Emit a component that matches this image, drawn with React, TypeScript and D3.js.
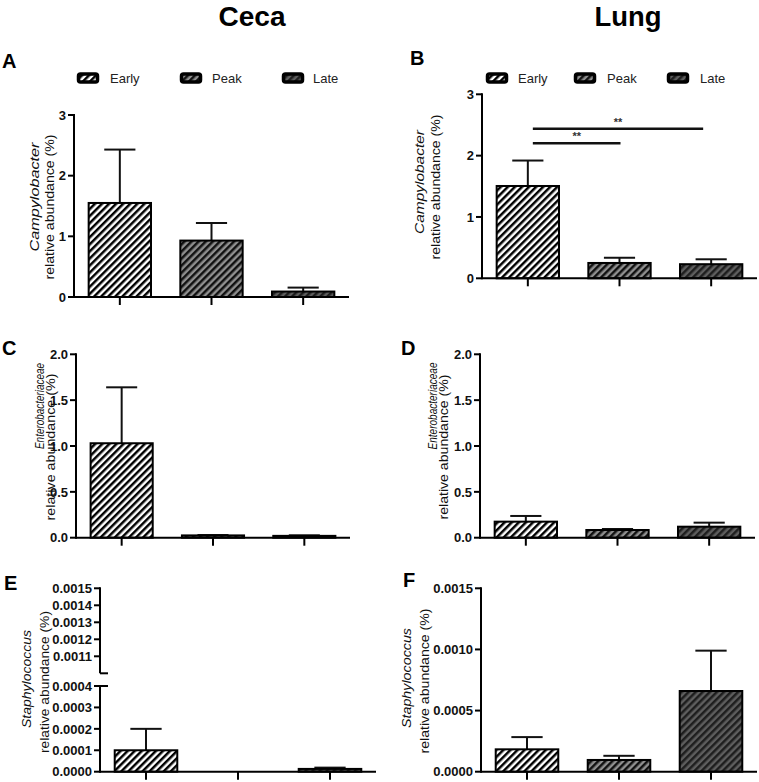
import React from "react";
import * as d3 from "d3";

const groups = ["Early", "Peak", "Late"];

const cecaCampyMean = [1.55, 0.93, 0.09];
const cecaCampySem = [0.88, 0.29, 0.065];
const lungCampyMean = [1.505, 0.25, 0.23];
const lungCampySem = [0.415, 0.085, 0.08];
const cecaEnteroMean = [1.03, 0.025, 0.02];
const cecaEnteroSem = [0.61, 0.004, 0.006];
const lungEnteroMean = [0.175, 0.084, 0.12];
const lungEnteroSem = [0.062, 0.011, 0.044];
const cecaStaphMean = [0.0001, 0, 0.000013];
const cecaStaphSem = [0.0001, 0, 0.000006];
const lungStaphMean = [0.000183, 0.000096, 0.00066];
const lungStaphSem = [0.0001, 0.000034, 0.00033];

const campyTicks = [0, 1, 2, 3];
const enteroTicks = [0, 0.5, 1, 1.5, 2];
const cecaStaphLowTicks = [0, 0.0001, 0.0002, 0.0003, 0.0004];
const cecaStaphHighTicks = [0.0011, 0.0012, 0.0013, 0.0014, 0.0015];
const lungStaphTicks = [0, 0.0005, 0.001, 0.0015];

const sigPairs: [number, number][] = [[0, 1], [0, 2]];
const sigHeights = [2.2, 2.44];
const sigLabels = ["**", "**"];

const fills = ["#ffffff", "#8f8f8f", "#5e5e5e"];
const stripeColors = ["#000000", "#111111", "#1e1e1e"];

const FONT = "'Liberation Sans', Arial, Helvetica, sans-serif";
const NARROW = "'Liberation Sans Narrow', 'Arial Narrow', 'Liberation Sans', Arial, sans-serif";

type Segment = { domain: [number, number]; range: [number, number]; ticks: number[]; fmt: string; topCap?: boolean; bottomCap?: boolean };

type Panel = {
  letter: string; lx: number; ly: number;
  xr: [number, number];
  segs: Segment[];
  mean: number[]; sem: number[];
  italic: string;
  lab: { ix: number; iy: number; il: number; nx: number; ny: number; nl: number };
  legend?: { sx: number[]; tx: number[]; y: number };
  sig?: boolean;
};

const panels: Panel[] = [
  {
    letter: "A", lx: 2, ly: 68, xr: [74, 349],
    segs: [{ domain: [0, 3], range: [297, 115], ticks: campyTicks, fmt: "d" }],
    mean: cecaCampyMean, sem: cecaCampySem, italic: "Campylobacter",
    lab: { ix: 39, iy: 197, il: 109, nx: 54, ny: 207, nl: 145 },
    legend: { sx: [77, 180, 282], tx: [110, 212, 313], y: 78 },
  },
  {
    letter: "B", lx: 410, ly: 65, xr: [482, 757],
    segs: [{ domain: [0, 3], range: [278.3, 94.3], ticks: campyTicks, fmt: "d" }],
    mean: lungCampyMean, sem: lungCampySem, italic: "Campylobacter",
    lab: { ix: 424, iy: 182, il: 104, nx: 440, ny: 187, nl: 145 },
    legend: { sx: [486, 574, 667], tx: [518, 607, 700], y: 78 },
    sig: true,
  },
  {
    letter: "C", lx: 2, ly: 355, xr: [76, 350],
    segs: [{ domain: [0, 2], range: [537.7, 354.3], ticks: enteroTicks, fmt: ".1f" }],
    mean: cecaEnteroMean, sem: cecaEnteroSem, italic: "Enterobacteriaceae",
    lab: { ix: 44, iy: 406, il: 86, nx: 55, ny: 447, nl: 147 },
  },
  {
    letter: "D", lx: 401, ly: 355, xr: [480, 755],
    segs: [{ domain: [0, 2], range: [537.7, 354.3], ticks: enteroTicks, fmt: ".1f" }],
    mean: lungEnteroMean, sem: lungEnteroSem, italic: "Enterobacteriaceae",
    lab: { ix: 437, iy: 406, il: 87, nx: 448, ny: 447, nl: 145 },
  },
  {
    letter: "E", lx: 4, ly: 590, xr: [100, 376],
    segs: [
      { domain: [0, 0.0004], range: [771.7, 686], ticks: cecaStaphLowTicks, fmt: ".4f", topCap: true },
      { domain: [0.001, 0.0015], range: [673.3, 588.3], ticks: cecaStaphHighTicks, fmt: ".4f", bottomCap: true },
    ],
    mean: cecaStaphMean, sem: cecaStaphSem, italic: "Staphylococcus",
    lab: { ix: 31, iy: 679, il: 98, nx: 49, ny: 682, nl: 142 },
  },
  {
    letter: "F", lx: 403, ly: 587, xr: [481, 757],
    segs: [{ domain: [0, 0.0015], range: [771.7, 588.3], ticks: lungStaphTicks, fmt: ".4f" }],
    mean: lungStaphMean, sem: lungStaphSem, italic: "Staphylococcus",
    lab: { ix: 411, iy: 678, il: 100, nx: 429, ny: 681, nl: 145 },
  },
];

function PanelView({ p }: { p: Panel }) {
  const x = d3.scaleBand<string>().domain(groups).range(p.xr).paddingInner(0.32).paddingOuter(0.16);
  const bw = x.bandwidth();
  const y = d3.scaleLinear().domain(p.segs[0].domain).range(p.segs[0].range);
  const ax = p.xr[0];
  const y0 = p.segs[0].range[0];
  const cx = (i: number) => (x(groups[i]) as number) + bw / 2;
  return (
    <g>
      <text x={p.lx} y={p.ly} fontFamily={FONT} fontWeight="bold" fontSize={20} fill="#000">{p.letter}</text>
      {p.legend && groups.map((g, i) => (
        <g key={g}>
          <rect x={p.legend!.sx[i] + 1.5} y={p.legend!.y - 4} width={19} height={8} rx={2}
            fill={`url(#pat${i})`} stroke="#000" strokeWidth={3.5} />
          <text x={p.legend!.tx[i]} y={p.legend!.y + 4.5} fontFamily={FONT} fontSize={13} fill="#222">{g}</text>
        </g>
      ))}
      {groups.map((g, i) => {
        const top = y(p.mean[i]);
        const et = y(p.mean[i] + p.sem[i]);
        if (p.mean[i] <= 0) return null;
        return (
          <g key={g}>
            {p.sem[i] > 0 && (
              <g stroke="#111" strokeWidth={2}>
                <line x1={cx(i)} x2={cx(i)} y1={top} y2={et} />
                <line x1={cx(i) - bw / 4} x2={cx(i) + bw / 4} y1={et} y2={et} />
              </g>
            )}
            <rect x={x(g)} y={top} width={bw} height={Math.max(0, y0 - top)}
              fill={`url(#pat${i})`} stroke="#000" strokeWidth={2} />
          </g>
        );
      })}
      <line x1={ax} x2={p.xr[1]} y1={y0} y2={y0} stroke="#000" strokeWidth={2} />
      {groups.map((g, i) => (
        <line key={g} x1={cx(i)} x2={cx(i)} y1={y0} y2={y0 + 8} stroke="#000" strokeWidth={2} />
      ))}
      {p.segs.map((s, si) => {
        const ys = d3.scaleLinear().domain(s.domain).range(s.range);
        const f = d3.format(s.fmt);
        return (
          <g key={si}>
            <line x1={ax} x2={ax} y1={s.range[0] + (si === 0 ? 1 : 0)} y2={s.range[1] - 1} stroke="#000" strokeWidth={2} />
            {s.ticks.map((t) => (
              <g key={t}>
                <line x1={ax - 6} x2={ax} y1={ys(t)} y2={ys(t)} stroke="#000" strokeWidth={2} />
                <text x={ax - 8} y={ys(t)} dy="0.36em" textAnchor="end" fontFamily={FONT}
                  fontWeight="bold" fontSize={13} fill="#111">{f(t)}</text>
              </g>
            ))}
            {s.topCap && <line x1={ax} x2={ax + 8} y1={s.range[1]} y2={s.range[1]} stroke="#000" strokeWidth={2} />}
            {s.bottomCap && <line x1={ax} x2={ax + 8} y1={s.range[0]} y2={s.range[0]} stroke="#000" strokeWidth={2} />}
          </g>
        );
      })}
      <text transform={`translate(${p.lab.ix},${p.lab.iy}) rotate(-90)`} textAnchor="middle"
        fontFamily={FONT} fontStyle="italic" fontSize={13} fill="#111"
        textLength={p.lab.il} lengthAdjust="spacingAndGlyphs">{p.italic}</text>
      <text transform={`translate(${p.lab.nx},${p.lab.ny}) rotate(-90)`} textAnchor="middle"
        fontFamily={FONT} fontSize={13} fill="#111"
        textLength={p.lab.nl} lengthAdjust="spacingAndGlyphs">relative abundance (%)</text>
      {p.sig && sigPairs.map(([a, b], k) => {
        const x1 = cx(a) + 5;
        const x2 = cx(b) + (b === 1 ? 1 : -8);
        const yy = y(sigHeights[k]);
        return (
          <g key={k}>
            <line x1={x1} x2={x2} y1={yy} y2={yy} stroke="#111" strokeWidth={2.5} />
            <text x={(x1 + x2) / 2} y={yy - 3} textAnchor="middle" fontFamily={FONT}
              fontWeight="bold" fontSize={11} fill="#333">{sigLabels[k]}</text>
          </g>
        );
      })}
    </g>
  );
}

export default function App() {
  return (
    <svg width={759} height={782} viewBox="0 0 759 782"
      style={{ position: "absolute", left: 0, top: 0, background: "#fff" }}>
      <defs>
        {groups.map((g, i) => (
          <pattern key={g} id={`pat${i}`} patternUnits="userSpaceOnUse" width={5} height={5}
            patternTransform="rotate(45)">
            <rect x={0} y={0} width={5} height={5} fill={fills[i]} />
            <line x1={1.25} y1={-1} x2={1.25} y2={6} stroke={stripeColors[i]} strokeWidth={2.5} />
          </pattern>
        ))}
      </defs>
      <rect x={0} y={0} width={759} height={782} fill="#fff" />
      <text x={252} y={26} textAnchor="middle" fontFamily={NARROW} fontWeight="bold" fontSize={27}
        textLength={67} lengthAdjust="spacingAndGlyphs" fill="#000">Ceca</text>
      <text x={628} y={26} textAnchor="middle" fontFamily={NARROW} fontWeight="bold" fontSize={27}
        textLength={67} lengthAdjust="spacingAndGlyphs" fill="#000">Lung</text>
      {panels.map((p) => <PanelView key={p.letter} p={p} />)}
    </svg>
  );
}
